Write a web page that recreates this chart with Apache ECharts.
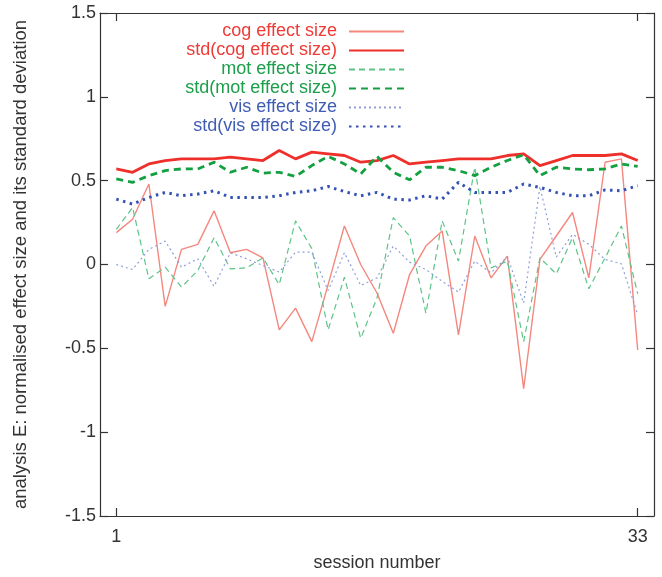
<!DOCTYPE html>
<html>
<head>
<meta charset="utf-8">
<script src="https://cdn.jsdelivr.net/npm/echarts@6/dist/echarts.min.js"></script>
<style>
html,body{margin:0;padding:0;background:#fff;}
#chart{width:662px;height:577px;}
</style>
</head>
<body>
<div id="chart"></div>
<script>
const sessions = [1,2,3,4,5,6,7,8,9,10,11,12,13,14,15,16,17,18,19,20,21,22,23,24,25,26,27,28,29,30,31,32,33];
const cogEffect = [0.19,0.27,0.48,-0.25,0.09,0.12,0.32,0.07,0.09,0.04,-0.39,-0.26,-0.46,-0.12,0.23,0.0,-0.17,-0.41,-0.06,0.11,0.2,-0.42,0.17,-0.08,0.05,-0.74,0.03,0.17,0.31,-0.08,0.61,0.63,-0.51];
const cogStd = [0.57,0.55,0.60,0.62,0.63,0.63,0.63,0.64,0.63,0.62,0.68,0.63,0.67,0.66,0.65,0.61,0.62,0.65,0.60,0.61,0.62,0.63,0.63,0.63,0.65,0.66,0.59,0.62,0.65,0.65,0.65,0.66,0.62];
const motEffect = [0.21,0.34,-0.085,-0.016,-0.135,-0.036,0.16,-0.026,-0.02,0.04,-0.12,0.26,0.095,-0.39,-0.076,-0.44,-0.2,0.28,0.17,-0.29,0.26,0.02,0.58,-0.02,0.02,-0.46,0.04,-0.056,0.16,-0.145,0.04,0.23,-0.175];
const motStd = [0.51,0.49,0.53,0.56,0.57,0.57,0.61,0.55,0.58,0.545,0.55,0.525,0.59,0.645,0.60,0.54,0.645,0.55,0.505,0.58,0.58,0.56,0.53,0.58,0.62,0.655,0.53,0.58,0.57,0.565,0.57,0.60,0.585];
const visEffect = [0.0,-0.03,0.09,0.14,-0.016,0.034,-0.13,0.07,0.034,-0.006,-0.045,0.074,0.074,-0.155,0.07,-0.125,-0.08,0.11,0.014,-0.03,-0.1,-0.165,0.02,-0.05,0.046,-0.23,0.465,0.044,0.18,0.12,0.03,0.004,-0.30];
const visStd = [0.39,0.36,0.40,0.43,0.41,0.42,0.44,0.40,0.40,0.40,0.41,0.43,0.44,0.465,0.435,0.41,0.43,0.39,0.385,0.41,0.39,0.49,0.43,0.43,0.43,0.48,0.46,0.43,0.41,0.41,0.445,0.44,0.47];
const xTicks = [1, 33];
const seriesNames = ['cog effect size','std(cog effect size)','mot effect size','std(mot effect size)','vis effect size','std(vis effect size)'];

const FONT = 'Liberation Sans, Arial, Helvetica, sans-serif';
const RED = '#ee3b36', GREEN = '#1c9e4a', BLUE = '#3f5db5';
const textColors = [RED, RED, GREEN, GREEN, BLUE, BLUE];

function pairs(vals){ return sessions.map((s,i)=>[s, vals[i]]); }

const styles = [
  {color:'#f4877e', width:1.4, type:'solid'},
  {color:'#ee2f2a', width:2.8, type:'solid'},
  {color:'#5cc488', width:1.2, type:[6,4]},
  {color:'#13a040', width:2.8, type:[7,5]},
  {color:'#8f9fdc', width:1.2, type:[2,3]},
  {color:'#3352b3', width:3, type:[2.5,4.5]}
];
const dataSets = [cogEffect, cogStd, motEffect, motStd, visEffect, visStd];

const chart = echarts.init(document.getElementById('chart'), null, {renderer:'canvas'});
const axisLineStyle = {color:'#333', width:1.2};
chart.setOption({
  animation:false,
  backgroundColor:'#fff',
  grid:{left:100, right:8, top:13, bottom:61},
  legend:{
    orient:'vertical', align:'right', right:252, top:17,
    itemWidth:55, itemHeight:12, itemGap:0,
    itemStyle:{opacity:0},
    data: seriesNames.map((n,i)=>({name:n, textStyle:{color:textColors[i]}})),
    textStyle:{fontFamily:FONT, fontSize:18, lineHeight:19, padding:[0,7,0,0]}
  },
  xAxis:[{
    type:'value', min:0, max:34, position:'bottom',
    name:'session number', nameLocation:'middle', nameGap:38,
    nameTextStyle:{fontFamily:FONT, fontSize:18, color:'#333'},
    axisLine:{show:true, onZero:false, lineStyle:axisLineStyle},
    axisTick:{show:true, inside:true, length:8, customValues:xTicks, lineStyle:axisLineStyle},
    axisLabel:{show:true, customValues:xTicks, fontFamily:FONT, fontSize:18, color:'#333', margin:12},
    splitLine:{show:false}
  },{
    type:'value', min:0, max:34, position:'top',
    axisLine:{show:true, onZero:false, lineStyle:axisLineStyle},
    axisTick:{show:true, inside:true, length:8, customValues:xTicks, lineStyle:axisLineStyle},
    axisLabel:{show:false}, splitLine:{show:false}
  }],
  yAxis:[{
    type:'value', min:-1.5, max:1.5, interval:0.5, position:'left',
    name:'analysis E: normalised effect size and its standard deviation',
    nameLocation:'middle', nameGap:70, nameRotate:90,
    nameTextStyle:{fontFamily:FONT, fontSize:18.5, color:'#333'},
    axisLine:{show:true, onZero:false, lineStyle:axisLineStyle},
    axisTick:{show:true, inside:true, length:8, lineStyle:axisLineStyle},
    axisLabel:{fontFamily:FONT, fontSize:18, color:'#333', margin:4},
    splitLine:{show:false}
  },{
    type:'value', min:-1.5, max:1.5, interval:0.5, position:'right',
    axisLine:{show:true, onZero:false, lineStyle:axisLineStyle},
    axisTick:{show:true, inside:true, length:8, lineStyle:axisLineStyle},
    axisLabel:{show:false}, splitLine:{show:false}
  }],
  series: seriesNames.map((n,i)=>({
    name:n, type:'line', xAxisIndex:0, yAxisIndex:0,
    data:pairs(dataSets[i]), showSymbol:false, symbol:'none',
    lineStyle:{color:styles[i].color, width:styles[i].width, type:styles[i].type},
    itemStyle:{color:styles[i].color},
    emphasis:{disabled:true}
  }))
});
</script>
</body>
</html>
